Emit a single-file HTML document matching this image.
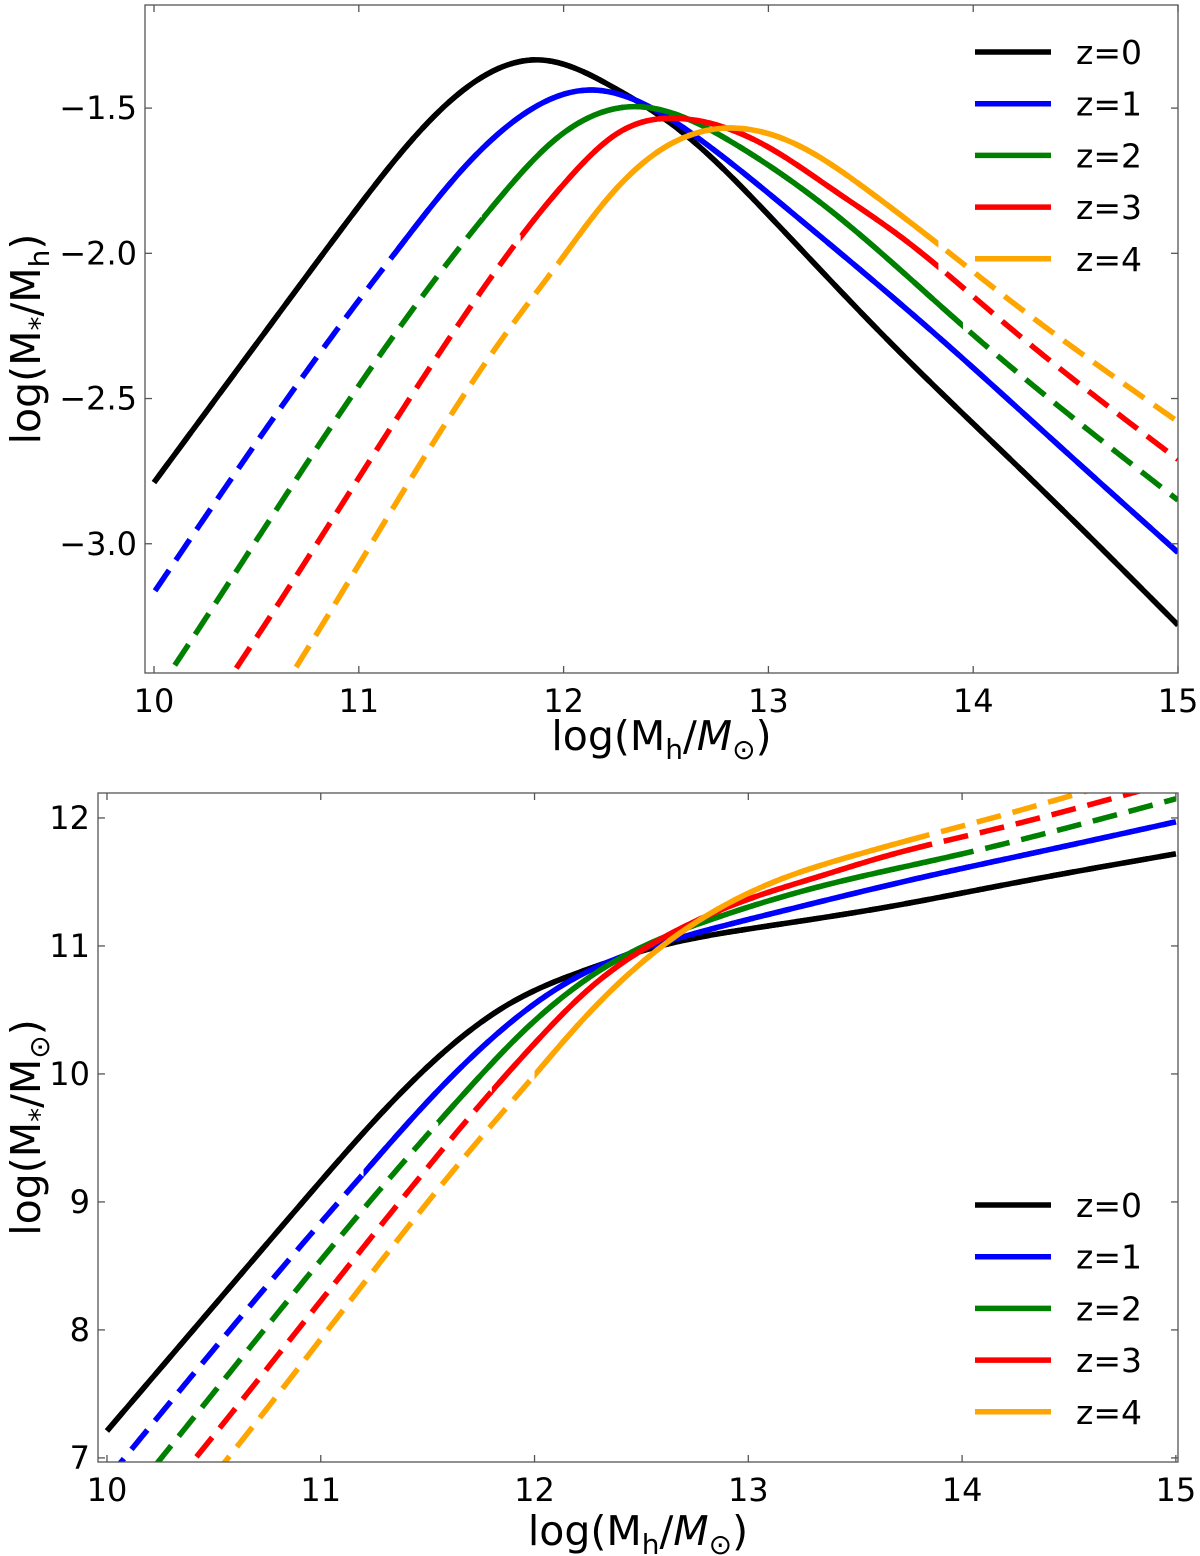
<!DOCTYPE html>
<html><head><meta charset="utf-8">
<style>
html,body{margin:0;padding:0;background:#fff;}
svg{display:block;font-family:"DejaVu Sans","Liberation Sans",sans-serif;}
</style></head>
<body>
<svg id="fig" width="1200" height="1556" viewBox="0 0 1200 1556" xmlns="http://www.w3.org/2000/svg"></svg>
<script>
// ---------- data ----------
const seriesNames = ["z=0","z=1","z=2","z=3","z=4"];
const seriesColors = ["#000000","#0000ff","#008000","#ff0000","#ffa500"];
const xTicks = [10,11,12,13,14,15];
const topYTicks = [-1.5,-2.0,-2.5,-3.0];
const topYTickLabels = ["\u22121.5","\u22122.0","\u22122.5","\u22123.0"];
const botYTicks = [7,8,9,10,11,12];
const botYTickLabels = ["7","8","9","10","11","12"];

// top panel: log(M*/Mh) vs log(Mh)
const topX0 = [10,10.657,10.96,11.333,11.88,12.266,12.545,13.01,13.57,14.3,15];
const topY0 = [-2.789,-2.162,-1.875,-1.553,-1.334,-1.438,-1.564,-1.875,-2.289,-2.79,-3.28];
const topX1 = [10.005,11.0,11.18,11.52,11.692,12.116,12.67,13.159,13.795,14.4,15];
const topY1 = [-3.162,-2.162,-1.996,-1.70,-1.582,-1.438,-1.61,-1.886,-2.266,-2.65,-3.03];
const topX2 = [9.9,10.094,11.165,11.692,11.936,12.344,12.833,13.322,13.957,15];
const topY2 = [-3.63,-3.426,-2.289,-1.806,-1.622,-1.495,-1.622,-1.863,-2.254,-2.85];
const topX3 = [10.2,10.404,11.445,11.79,12.018,12.263,12.572,12.996,13.32,13.648,14.137,15];
const topY3 = [-3.64,-3.426,-2.289,-1.944,-1.748,-1.587,-1.536,-1.633,-1.783,-1.944,-2.231,-2.71];
const topX4 = [10.5,10.697,11.741,11.985,12.181,12.425,12.768,13.159,13.485,13.827,14.137,15];
const topY4 = [-3.64,-3.421,-2.254,-2.024,-1.84,-1.668,-1.570,-1.633,-1.783,-1.967,-2.139,-2.58];
const topSolid = [[9,16],[11.18,16],[11.6,13.95],[11.79,13.83],[11.98,13.83]];

// bottom panel: log(M*) vs log(Mh)
const botX0 = [10,10.657,10.96,11.333,11.88,12.266,12.545,13.01,13.57,14.3,15];
const botY0 = [7.211,8.495,9.085,9.78,10.546,10.828,10.981,11.135,11.281,11.51,11.72];
const botX1 = [10.005,11.0,11.18,11.52,11.692,12.116,12.67,13.159,13.795,14.4,15];
const botY1 = [6.843,8.838,9.184,9.82,10.11,10.678,11.06,11.273,11.529,11.75,11.97];
const botX2 = [9.9,10.094,11.165,11.692,11.936,12.344,12.833,13.322,13.957,15];
const botY2 = [6.27,6.668,8.876,9.886,10.314,10.849,11.211,11.459,11.703,12.15];
const botX3 = [10.2,10.404,11.445,11.79,12.018,12.263,12.572,12.996,13.32,13.648,14.137,15];
const botY3 = [6.56,6.978,9.156,9.846,10.27,10.676,11.036,11.363,11.537,11.704,11.906,12.29];
const botX4 = [10.5,10.697,11.741,11.985,12.181,12.425,12.768,13.159,13.485,13.827,14.137,15];
const botY4 = [6.86,7.276,9.487,9.961,10.341,10.757,11.198,11.526,11.702,11.86,11.998,12.42];
const botSolid = [[9,16],[11.2,16],[11.55,14.0],[11.8,13.85],[12.0,13.8]];

const topXs=[topX0,topX1,topX2,topX3,topX4], topYs=[topY0,topY1,topY2,topY3,topY4];
const botXs=[botX0,botX1,botX2,botX3,botX4], botYs=[botY0,botY1,botY2,botY3,botY4];

// ---------- drawing ----------
const NS="http://www.w3.org/2000/svg";
const svg=document.getElementById('fig');
function mk(tag,attrs,parent){const e=document.createElementNS(NS,tag);for(const k in attrs)e.setAttribute(k,attrs[k]);(parent||svg).appendChild(e);return e;}

// natural cubic spline through data points, sampled finely
function spline(xs,ys){
  const n=xs.length, h=[], a=[], l=[1], mu=[0], z=[0], c=new Array(n).fill(0), b=[], d=[];
  for(let i=0;i<n-1;i++)h.push(xs[i+1]-xs[i]);
  for(let i=1;i<n-1;i++)a[i]=3/h[i]*(ys[i+1]-ys[i])-3/h[i-1]*(ys[i]-ys[i-1]);
  for(let i=1;i<n-1;i++){l[i]=2*(xs[i+1]-xs[i-1])-h[i-1]*mu[i-1];mu[i]=h[i]/l[i];z[i]=(a[i]-h[i-1]*z[i-1])/l[i];}
  for(let j=n-2;j>=0;j--){c[j]=(j>0?z[j]:0)-mu[j]*c[j+1];if(j===0)c[0]=0;b[j]=(ys[j+1]-ys[j])/h[j]-h[j]*(c[j+1]+2*c[j])/3;d[j]=(c[j+1]-c[j])/(3*h[j]);}
  const out=[];
  for(let i=0;i<n-1;i++){
    const steps=Math.max(4,Math.ceil(h[i]/0.01));
    for(let k=0;k<steps;k++){const t=h[i]*k/steps;out.push([xs[i]+t,ys[i]+b[i]*t+c[i]*t*t+d[i]*t*t*t]);}
  }
  out.push([xs[n-1],ys[n-1]]);
  return out;
}

function panel(cfg){
  const {id,L,R,T,B,xmin,xmax,ymin,ymax,yTicks,yLabels,Xs,Ys,solid,legendY,xlabelY,ylabelX,yTitle}=cfg;
  const sx=v=>L+(v-xmin)/(xmax-xmin)*(R-L);
  const sy=v=>B-(v-ymin)/(ymax-ymin)*(B-T);
  const g=mk('g',{});
  
  
  const cp=mk('clipPath',{id:id+'-clip'},g);
  mk('rect',{x:L,y:T,width:R-L,height:B-T},cp);
  const series=mk('g',{'clip-path':'url(#'+id+'-clip)'},g);
  for(let s=0;s<Xs.length;s++){
    const pts=spline(Xs[s],Ys[s]).map(p=>[sx(p[0]),sy(p[1])]);
    const d="M"+pts.map(p=>p[0].toFixed(2)+","+p[1].toFixed(2)).join(" L");
    const sg=mk('g',{},series);
    
    
    mk('path',{d:d,fill:'none',stroke:seriesColors[s],'stroke-width':5.5,'stroke-dasharray':'25,12'},sg);
    const sc=mk('clipPath',{id:id+'-solid-'+s},sg);
    const a=Math.max(sx(solid[s][0]),L-10), b=Math.min(sx(solid[s][1]),R+10);
    mk('rect',{x:a,y:T-10,width:b-a,height:B-T+20},sc);
    mk('path',{d:d,fill:'none',stroke:seriesColors[s],'stroke-width':5.5,'clip-path':'url(#'+id+'-solid-'+s+')'},sg);
  }
  const frame=mk('rect',{x:L,y:T,width:R-L,height:B-T,fill:'none',stroke:'#555','stroke-width':1.3},g);
  
  
  for(const t of xTicks){
    const x=sx(t);
    mk('line',{x1:x,y1:B,x2:x,y2:B-7,stroke:'#555','stroke-width':1.3},g);
    mk('line',{x1:x,y1:T,x2:x,y2:T+7,stroke:'#555','stroke-width':1.3},g);
    const tx=mk('text',{x:x,y:B+39,'font-size':32,'text-anchor':'middle',fill:'#000'},g);
    tx.textContent=String(t);
    
    
  }
  yTicks.forEach((t,i)=>{
    const y=sy(t);
    mk('line',{x1:L,y1:y,x2:L+7,y2:y,stroke:'#555','stroke-width':1.3},g);
    mk('line',{x1:R,y1:y,x2:R-7,y2:y,stroke:'#555','stroke-width':1.3},g);
    const tx=mk('text',{x:L-8,y:y+11,'font-size':32,'text-anchor':'end',fill:'#000'},g);
    tx.textContent=yLabels[i];
    
    
  });
  const xt=mk('text',{x:(L+R)/2,y:xlabelY,'font-size':41,'text-anchor':'middle',fill:'#000'},g);
  xt.innerHTML='log(M<tspan font-size="28" dy="9">h</tspan><tspan dy="-9">/</tspan><tspan font-style="italic">M</tspan><tspan font-size="28" dy="9">\u2299</tspan><tspan dy="-9">)</tspan>';
  
  
  const yc=(T+B)/2;
  const yt=mk('text',{x:ylabelX,y:yc,'font-size':41,'text-anchor':'middle',fill:'#000',transform:'rotate(-90 '+ylabelX+' '+yc+')'},g);
  yt.innerHTML=yTitle;
  
  
  const lg=mk('g',{},g);
  
  
  seriesNames.forEach((n,i)=>{
    const y=legendY+i*51.7;
    const e=mk('g',{},lg);
    
    
    mk('line',{x1:975,y1:y,x2:1051,y2:y,stroke:seriesColors[i],'stroke-width':5.5},e);
    const t=mk('text',{x:1076,y:y+12,'font-size':33,fill:'#000'},e);
    t.textContent=n;
  });
}

panel({id:'ratio',L:145,R:1178,T:5,B:673,xmin:9.956,xmax:15.0,ymin:-3.445,ymax:-1.145,
  yTicks:topYTicks,yLabels:topYTickLabels,Xs:topXs,Ys:topYs,solid:topSolid,legendY:52,xlabelY:750,ylabelX:40,
  yTitle:'log(M<tspan font-size="28" dy="9">*</tspan><tspan dy="-9">/M</tspan><tspan font-size="28" dy="9">h</tspan><tspan dy="-9">)</tspan>'});
panel({id:'stellar-mass',L:98,R:1178,T:793,B:1462,xmin:9.958,xmax:15.01,ymin:6.968,ymax:12.195,
  yTicks:botYTicks,yLabels:botYTickLabels,Xs:botXs,Ys:botYs,solid:botSolid,legendY:1205,xlabelY:1545,ylabelX:40,
  yTitle:'log(M<tspan font-size="28" dy="9">*</tspan><tspan dy="-9">/M</tspan><tspan font-size="28" dy="9">\u2299</tspan><tspan dy="-9">)</tspan>'});
</script>
</body></html>
